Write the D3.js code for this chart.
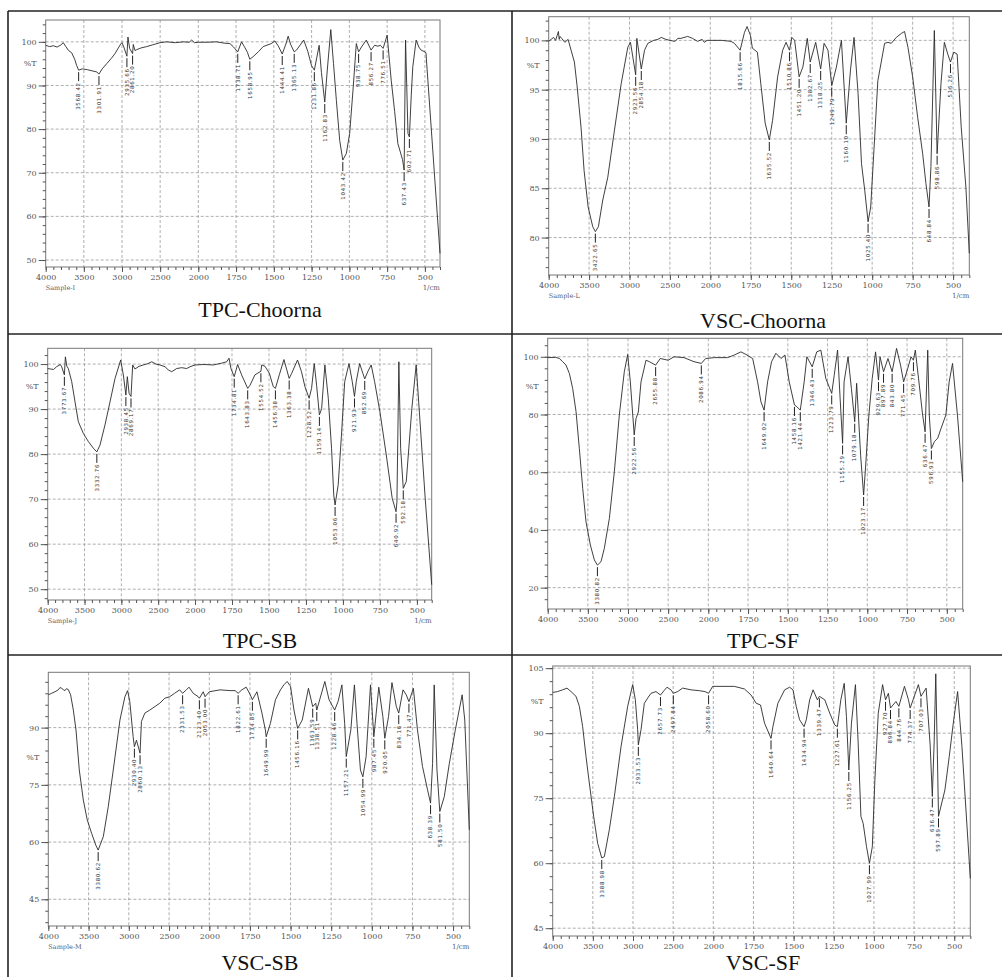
<!DOCTYPE html>
<html>
<head>
<meta charset="utf-8">
<script src="https://cdn.jsdelivr.net/npm/d3@7"></script>
<style>
	body { margin: 0; background: #fff; }
	svg { display: block; }
</style>
</head>
<body>
<script>
// wavenumber ticks shared by all six spectra
const x_tick_values = [4000, 3500, 3000, 2500, 2000, 1750, 1500, 1250, 1000, 750, 500];

// TPC-Choorna
const tpc_choorna = [[4000,99.2],[3950,98.9],[3900,99.1],[3850,98.8],[3800,99.3],[3770,99.8],[3740,99.0],[3700,98.0],[3660,97.5],[3620,96.0],[3595,94.6],[3568.42,93.5],[3520,93.8],[3450,93.6],[3380,93.3],[3330,93.1],[3301.91,92.6],[3260,93.8],[3200,95.0],[3140,96.2],[3092,97.3],[3017,99.5],[3000,99.8],[2980,99.0],[2935.66,96.7],[2922,101.1],[2900,98.5],[2861.20,97.3],[2852,99.4],[2830,98.0],[2808,98.2],[2750,98.6],[2677,98.9],[2600,99.3],[2500,99.8],[2415,100.0],[2300,99.8],[2196,100.0],[2120,99.9],[2087,100.4],[2050,99.8],[2000,99.9],[1940,99.9],[1879,100.0],[1830,99.7],[1791,99.6],[1769,98.9],[1738.71,97.7],[1714,100.0],[1695,98.9],[1675,97.6],[1658.95,96.0],[1637,96.6],[1600,97.8],[1571,98.9],[1516,99.6],[1493,100.2],[1470,99.0],[1444.41,97.2],[1420,99.5],[1405,101.3],[1390,99.5],[1365.13,97.7],[1350,98.1],[1325,99.3],[1302,100.4],[1275,97.8],[1251,94.6],[1231.86,93.5],[1215,96.5],[1200,99.2],[1185,93.0],[1162.83,86.2],[1145,94.0],[1123,102.8],[1105,95.0],[1086,86.6],[1064,77.4],[1043.42,72.9],[1020,74.4],[998,79.0],[976,88.9],[954,99.6],[938.75,97.7],[920,98.8],[888,100.4],[856.27,98.1],[833,99.2],[811,99.0],[795,99.2],[776.51,98.5],[750,101.5],[723,91.2],[700,84.0],[679,76.7],[648,73.0],[637.43,70.6],[628,100.4],[612,79.0],[602.71,78.2],[590,88.0],[580,94.3],[558,100.4],[540,98.8],[525,98.1],[500,97.7],[493,97.5],[400,51.5]];
const tpc_choorna_peaks = ['3568.42','3301.91','2935.66','2861.20','1738.71','1658.95','1444.41','1365.13','1231.86','1162.83','1043.42','938.75','856.27','776.51','637.43','602.71'];
const tpc_choorna_y_ticks = [50, 60, 70, 80, 90, 100];

// VSC-Choorna
const vsc_choorna = [[4000,99.9],[3970,100.1],[3940,100.3],[3915,100.0],[3895,100.5],[3880,100.9],[3870,100.1],[3860,100.4],[3840,100.2],[3800,99.8],[3760,100.1],[3723,99.0],[3682,97.8],[3649,95.4],[3600,91.2],[3562,86.8],[3512,83.1],[3455,81.1],[3422.65,80.6],[3385,81.1],[3331,83.8],[3269,86.1],[3186,90.9],[3103,95.6],[3021,99.3],[2988,99.8],[2923.56,96.5],[2909,100.2],[2854.18,97.1],[2814,99.0],[2773,99.7],[2700,100.0],[2649,100.1],[2607,100.3],[2550,100.1],[2500,100.0],[2438,99.9],[2400,100.2],[2364,100.2],[2281,100.4],[2220,100.2],[2157,99.9],[2100,100.1],[2074,99.8],[2040,100.0],[2000,100.0],[1930,100.0],[1872,99.9],[1851,99.7],[1815.66,99.0],[1789,100.8],[1773,101.4],[1752,100.5],[1740,99.2],[1709,98.8],[1688,95.6],[1661,91.6],[1635.52,89.9],[1615,91.9],[1584,96.3],[1553,99.0],[1532,99.8],[1510.86,99.0],[1496,100.3],[1479,100.0],[1451.20,96.3],[1428,97.3],[1401,100.2],[1382.67,97.8],[1349,99.8],[1318.25,97.1],[1297,99.7],[1273,99.0],[1249.79,95.4],[1221,97.3],[1190,100.0],[1160.10,91.6],[1134,97.0],[1112,100.3],[1087,94.6],[1066,87.5],[1046,84.8],[1025.40,81.6],[1009,83.1],[989,88.9],[965,95.9],[923,99.7],[903,99.8],[882,99.7],[851,100.3],[820,100.7],[800,100.9],[779,99.3],[750,96.3],[719,92.2],[688,88.5],[668,85.5],[648.84,83.1],[637,87.2],[616,101.0],[598.86,88.5],[575,95.6],[554,99.8],[533,98.6],[516.26,97.8],[496,98.8],[475,98.6],[450,91.2],[421,85.1],[400,78.4]];
const vsc_choorna_peaks = ['3422.65','2923.56','2854.18','1815.66','1635.52','1510.86','1451.20','1382.67','1318.25','1249.79','1160.10','1025.40','648.84','598.86','516.26'];
const vsc_choorna_y_ticks = [80, 85, 90, 95, 100];

// TPC-SB
const tpc_sb = [[4000,99.0],[3960,98.9],[3920,98.8],[3880,99.4],[3828,99.9],[3810,99.4],[3773.67,97.6],[3760,101.6],[3740,99.5],[3720,99.0],[3674,96.1],[3629,91.6],[3584,87.2],[3516,84.6],[3448,82.8],[3380,81.3],[3332.76,80.5],[3290,82.0],[3222,86.5],[3154,91.6],[3086,96.8],[3009,100.9],[2973,97.6],[2938.45,93.1],[2919,97.2],[2895,93.5],[2869.17,92.8],[2846,99.8],[2815,98.9],[2760,99.5],[2701,99.8],[2640,100.1],[2588,100.5],[2530,100.0],[2475,99.8],[2407,99.4],[2362,98.7],[2317,98.3],[2249,99.0],[2180,99.2],[2113,99.0],[2068,99.4],[2000,99.8],[1940,99.9],[1876,99.8],[1820,100.2],[1786,100.5],[1770,101.3],[1757,99.0],[1734.81,97.2],[1712,99.9],[1685,97.6],[1643.83,94.6],[1628,95.3],[1595,97.6],[1554.52,98.4],[1549,99.8],[1527,99.5],[1498,98.0],[1471,95.0],[1456.38,94.6],[1430,97.6],[1399,101.0],[1363.38,96.8],[1347,97.9],[1307,100.9],[1280,98.3],[1257,95.0],[1228.52,92.4],[1212,94.6],[1194,100.1],[1178,95.3],[1159.14,88.7],[1144,90.1],[1122,99.8],[1099,92.4],[1077,81.3],[1062,70.9],[1053.06,68.7],[1032,73.2],[1010,84.2],[988,96.1],[959,100.1],[937,96.1],[921.93,92.8],[910,96.1],[887,100.1],[865,97.9],[852.69,96.7],[831,98.4],[809,99.8],[786,96.1],[750,89.4],[707,79.8],[667,70.2],[640.92,67.2],[635,69.4],[622,100.5],[610,81.3],[592.18,72.4],[572,73.9],[534,90.2],[505,99.8],[482,88.7],[444,70.2],[400,51.0]];
const tpc_sb_peaks = ['3773.67','3332.76','2938.45','2869.17','1734.81','1643.83','1554.52','1456.38','1363.38','1228.52','1159.14','1053.06','921.93','852.69','640.92','592.18'];
const tpc_sb_y_ticks = [50, 60, 70, 80, 90, 100];

// TPC-SF
const tpc_sf = [[4000,99.7],[3900,99.8],[3855,99.4],[3813,98.3],[3772,97.1],[3730,94.2],[3689,89.0],[3647,81.0],[3606,68.2],[3564,54.4],[3523,42.8],[3469,34.8],[3419,29.6],[3380.82,27.8],[3336,29.0],[3295,33.6],[3232,44.0],[3170,60.2],[3108,79.8],[3046,94.8],[3004,100.8],[2971,91.3],[2922.56,72.9],[2900,78.6],[2871,80.9],[2838,91.3],[2776,98.8],[2734,98.3],[2655.88,97.1],[2598,99.4],[2500,98.8],[2427,100.0],[2303,99.7],[2178,98.3],[2086.94,97.7],[2033,99.4],[1962,99.7],[1879,99.7],[1837,100.6],[1795,101.7],[1763,100.8],[1721,99.4],[1690,91.3],[1669,84.4],[1649.02,81.5],[1627,91.3],[1602,98.3],[1575,101.2],[1543,99.4],[1518,100.6],[1491,91.3],[1458.16,83.3],[1443,82.7],[1421.44,81.5],[1397,91.3],[1380,100.0],[1346.43,96.5],[1318,101.7],[1292,102.3],[1261,92.5],[1223.79,87.3],[1208,93.6],[1187,102.3],[1171,85.6],[1155.29,70.0],[1146,91.3],[1121,100.0],[1100,89.0],[1079.18,77.5],[1067,90.8],[1058,82.1],[1042,65.9],[1023.17,52.1],[1010,62.5],[990,79.8],[969,92.5],[948,101.7],[929.63,91.9],[920,100.0],[897.89,94.8],[870,99.4],[843.80,94.8],[816,102.9],[791,97.1],[771.45,91.3],[746,95.9],[725,100.0],[709.76,98.8],[698,102.3],[673,90.2],[652,79.8],[636.47,74.0],[620,102.3],[610,79.8],[596.93,68.2],[578,70.6],[557,71.8],[536,75.2],[506,79.8],[485,91.3],[464,97.7],[433,79.8],[400,56.7]];
const tpc_sf_peaks = ['3380.82','2922.56','2655.88','2086.94','1649.02','1458.16','1421.44','1346.43','1223.79','1155.29','1079.18','1023.17','929.63','897.89','843.80','771.45','709.76','636.47','596.93'];
const tpc_sf_y_ticks = [20, 40, 60, 80, 100];

// VSC-SB
const vsc_sb = [[4000,98.6],[3959,99.0],[3917,99.4],[3876,99.9],[3855,100.5],[3834,100.3],[3810,99.9],[3793,99.7],[3775,100.2],[3752,100.0],[3723,98.6],[3689,94.6],[3656,89.4],[3615,78.9],[3565,71.0],[3516,65.8],[3462,62.3],[3410,59.2],[3380.62,57.9],[3317,61.4],[3255,69.3],[3193,78.9],[3110,92.0],[3048,98.1],[3015,99.7],[2988,96.9],[2946,87.6],[2930.40,85.0],[2905,86.7],[2860.13,83.3],[2843,91.6],[2801,93.8],[2739,94.6],[2677,95.5],[2615,96.4],[2553,97.7],[2492,98.1],[2431,99.0],[2368,99.9],[2331.53,99.0],[2285,99.9],[2252,100.6],[2200,99.0],[2137,98.1],[2123.40,97.7],[2075,99.4],[2053.00,98.1],[2000,99.4],[1934,99.9],[1872,99.7],[1841,99.7],[1822.61,99.0],[1800,99.9],[1773,100.6],[1748,98.6],[1734.85,97.3],[1707,99.4],[1676,93.8],[1655,89.4],[1649.99,87.6],[1624,91.1],[1593,97.3],[1562,99.9],[1541,101.2],[1521,102.1],[1500,100.8],[1479,94.6],[1456.16,89.8],[1428,92.0],[1390,100.3],[1363.59,95.5],[1345,96.4],[1338.51,94.6],[1289,102.1],[1263,97.3],[1228.46,94.6],[1207,96.9],[1184,101.2],[1167,91.1],[1157.21,82.4],[1129,89.4],[1107,101.2],[1091,91.1],[1070,78.9],[1054.99,77.1],[1035,82.4],[1008,101.2],[987.45,87.6],[973,93.8],[957,100.6],[932,92.9],[920.05,87.2],[897,92.9],[876,101.8],[849,95.5],[834.16,93.8],[808,99.9],[788,98.6],[771.47,96.8],[744,100.3],[719,89.4],[688,79.8],[657,73.7],[638.39,70.2],[626,80.6],[616,101.2],[599,78.9],[581.50,68.0],[554,71.9],[523,80.6],[486,89.4],[444,98.6],[428,92.0],[400,63.2]];
const vsc_sb_peaks = ['3380.62','2930.40','2860.13','2331.53','2123.40','2053.00','1822.61','1734.85','1649.99','1456.16','1363.59','1338.51','1228.46','1157.21','1054.99','987.45','920.05','834.16','771.47','638.39','581.50'];
const vsc_sb_y_ticks = [45, 60, 75, 90];

// VSC-SF
const vsc_sf = [[4000,99.4],[3938,99.6],[3876,100.0],[3822,100.4],[3772,99.6],[3710,98.5],[3668,96.2],[3627,91.5],[3585,84.6],[3544,78.5],[3490,70.8],[3440,64.6],[3388.98,61.2],[3357,61.5],[3295,67.7],[3232,75.4],[3149,86.9],[3066,96.2],[3004,101.2],[2971,97.7],[2942,90.8],[2933.53,87.3],[2900,90.8],[2859,96.9],[2817,98.1],[2776,99.2],[2714,99.6],[2657.73,98.8],[2610,99.9],[2577,100.6],[2527,100.0],[2497.84,99.2],[2444,99.6],[2382,100.4],[2278,100.0],[2174,99.8],[2104,99.6],[2058.60,99.2],[2008,100.8],[1952,100.8],[1869,100.8],[1806,100.2],[1765,98.8],[1733,96.9],[1706,96.5],[1681,92.3],[1640.64,88.8],[1629,91.5],[1598,96.9],[1556,100.0],[1525,100.6],[1504,100.0],[1484,96.2],[1463,93.1],[1434.94,91.5],[1421,93.1],[1400,97.7],[1379,100.0],[1352,97.7],[1339.47,98.5],[1306,97.7],[1275,94.6],[1244,91.9],[1227.61,91.5],[1206,97.7],[1185,101.5],[1171,93.8],[1156.25,81.5],[1140,92.3],[1115,101.2],[1098,87.7],[1081,70.8],[1067,69.2],[1046,63.8],[1027.99,60.0],[1010,63.8],[994,79.2],[973,94.6],[946,101.2],[927.70,97.7],[910,99.2],[896.84,95.8],[863,97.3],[844.76,96.2],[810,100.8],[785,97.7],[774.37,95.8],[723,101.2],[707.03,98.5],[675,100.4],[650,87.3],[636.47,75.4],[625,88.0],[615,103.7],[605,85.0],[597.89,70.8],[558,76.9],[531,84.6],[506,92.3],[479,99.6],[452,86.9],[400,56.5]];
const vsc_sf_peaks = ['3388.98','2933.53','2657.73','2497.84','2058.60','1640.64','1434.94','1339.47','1227.61','1156.25','1027.99','927.70','896.84','844.76','774.37','707.03','636.47','597.89'];
const vsc_sf_y_ticks = [45, 60, 75, 90, 105];

const panels = [
	{ title: 'TPC-Choorna', data: tpc_choorna, peaks: tpc_choorna_peaks, y_ticks: tpc_choorna_y_ticks, y_minor: 2, y_domain: [48.4, 105], pct_at: 95, sample: 'Sample-I',
	  left: 45.7, mid: 198.3, right: 440, top: 20, bottom: 267, title_x: 260, title_y: 317 },
	{ title: 'VSC-Choorna', data: vsc_choorna, peaks: vsc_choorna_peaks, y_ticks: vsc_choorna_y_ticks, y_minor: 1, y_domain: [76.2, 102.4], pct_at: 97.5, sample: 'Sample-L',
	  left: 548.7, mid: 710.3, right: 969.3, top: 16.7, bottom: 275, title_x: 763, title_y: 328 },
	{ title: 'TPC-SB', data: tpc_sb, peaks: tpc_sb_peaks, y_ticks: tpc_sb_y_ticks, y_minor: 2, y_domain: [47.6, 103.5], pct_at: 95, sample: 'Sample-J',
	  left: 47.7, mid: 195, right: 431.7, top: 348.3, bottom: 600, title_x: 260, title_y: 648 },
	{ title: 'TPC-SF', data: tpc_sf, peaks: tpc_sf_peaks, y_ticks: tpc_sf_y_ticks, y_minor: 4, y_domain: [12.6, 106.4], pct_at: 89.6, sample: null,
	  left: 547.7, mid: 708.3, right: 962.7, top: 338.3, bottom: 609, title_x: 763, title_y: 648 },
	{ title: 'VSC-SB', data: vsc_sb, peaks: vsc_sb_peaks, y_ticks: vsc_sb_y_ticks, y_minor: 3, y_domain: [38, 104.5], pct_at: 82.1, sample: 'Sample-M',
	  left: 48.3, mid: 209.3, right: 469.3, top: 672.3, bottom: 926, title_x: 260, title_y: 970 },
	{ title: 'VSC-SF', data: vsc_sf, peaks: vsc_sf_peaks, y_ticks: vsc_sf_y_ticks, y_minor: 3, y_domain: [43.2, 105.5], pct_at: 97.3, sample: null,
	  left: 552.7, mid: 713.3, right: 970.3, top: 666, bottom: 936, title_x: 763, title_y: 970 }
];

const svg = d3.select('body').append('svg')
	.attr('width', 1002)
	.attr('height', 977);

// table rules around the six cells
const rules = svg.append('g').attr('stroke', '#222').attr('stroke-width', 1.6);
rules.append('line').attr('x1', 8).attr('x2', 1002).attr('y1', 11).attr('y2', 11);
rules.append('line').attr('x1', 8).attr('x2', 1002).attr('y1', 334).attr('y2', 334);
rules.append('line').attr('x1', 8).attr('x2', 1002).attr('y1', 655).attr('y2', 655);
rules.append('line').attr('x1', 8).attr('x2', 8).attr('y1', 11).attr('y2', 977);
rules.append('line').attr('x1', 512).attr('x2', 512).attr('y1', 11).attr('y2', 977);

function t_at(data, wn)
{
	for (let i = 0; i < data.length - 1; i++)
	{
		const a = data[i], b = data[i + 1];
		if (a[0] >= wn && b[0] <= wn)
			return a[1] + (b[1] - a[1]) * (a[0] - wn) / (a[0] - b[0]);
	}
	return data[data.length - 1][1];
}

function draw_panel(p)
{
	const g = svg.append('g');

	// Shimadzu style: 4000-2000 squeezed to half scale
	const x = d3.scaleLinear().domain([4000, 2000, 400]).range([p.left, p.mid, p.right]);
	const y = d3.scaleLinear().domain(p.y_domain).range([p.bottom, p.top]);

	const x_minor = d3.range(4000, 2000, -100).concat(d3.range(2000, 399, -50));
	const y_minor = d3.range(Math.ceil(p.y_domain[0] / p.y_minor) * p.y_minor, p.y_domain[1], p.y_minor);

	// grid
	g.append('g').selectAll('line')
		.data(x_tick_values.slice(1))
		.join('line')
			.attr('x1', d => x(d)).attr('x2', d => x(d))
			.attr('y1', p.top).attr('y2', p.bottom)
			.attr('stroke', '#9a9a9a').attr('stroke-width', 0.8).attr('stroke-dasharray', '3,2');
	g.append('g').selectAll('line')
		.data(p.y_ticks)
		.join('line')
			.attr('x1', p.left).attr('x2', p.right)
			.attr('y1', d => y(d)).attr('y2', d => y(d))
			.attr('stroke', '#9a9a9a').attr('stroke-width', 0.8).attr('stroke-dasharray', '3,2');

	g.append('rect')
		.attr('x', p.left).attr('y', p.top)
		.attr('width', p.right - p.left).attr('height', p.bottom - p.top)
		.attr('fill', 'none').attr('stroke', '#777').attr('stroke-width', 1);

	// axes
	const xa_minor = g.append('g').attr('transform', `translate(0,${p.bottom})`)
		.call(d3.axisBottom(x).tickValues(x_minor).tickSize(3).tickSizeOuter(0).tickFormat(''));
	const xa = g.append('g').attr('transform', `translate(0,${p.bottom})`)
		.call(d3.axisBottom(x).tickValues(x_tick_values).tickSize(5).tickSizeOuter(0).tickPadding(2).tickFormat(d3.format('d')));
	const ya_minor = g.append('g').attr('transform', `translate(${p.left},0)`)
		.call(d3.axisLeft(y).tickValues(y_minor).tickSize(3).tickSizeOuter(0).tickFormat(''));
	const ya = g.append('g').attr('transform', `translate(${p.left},0)`)
		.call(d3.axisLeft(y).tickValues(p.y_ticks).tickSize(7).tickSizeOuter(0).tickPadding(2).tickFormat(d3.format('d')));

	[xa_minor, xa, ya_minor, ya].forEach(function(a)
	{
		a.select('.domain').remove();
		a.selectAll('line').attr('stroke', '#555');
		a.selectAll('text')
			.attr('fill', '#555')
			.style('font-family', 'DejaVu Serif')
			.style('font-size', '8px');
	});

	g.append('text')
		.attr('x', p.left - 9).attr('y', y(p.pct_at))
		.attr('dy', '0.32em').attr('text-anchor', 'end')
		.attr('fill', '#555').style('font-family', 'DejaVu Serif').style('font-size', '8px')
		.text('%T');

	if (p.sample)
	{
		g.append('text')
			.attr('x', p.left).attr('y', p.bottom + 23)
			.attr('fill', '#5a5a6a').style('font-family', 'DejaVu Serif').style('font-size', '6.5px')
			.text(p.sample);
		g.append('text')
			.attr('x', p.right).attr('y', p.bottom + 23).attr('text-anchor', 'end')
			.attr('fill', '#5a5a6a').style('font-family', 'DejaVu Serif').style('font-size', '7px')
			.text('1/cm');
	}

	// spectrum
	g.append('path')
		.datum(p.data)
		.attr('fill', 'none')
		.attr('stroke', '#2a2a2a')
		.attr('stroke-width', 0.9)
		.attr('stroke-linejoin', 'round')
		.attr('d', d3.line()
			.x(function(d) { return x(d[0]); })
			.y(function(d) { return y(d[1]); }));

	// peak labels below each band
	const pk = g.append('g').selectAll('g')
		.data(p.peaks)
		.join('g')
			.attr('transform', d => `translate(${x(+d)},${y(t_at(p.data, +d)) + 2})`);
	pk.append('line')
		.attr('y1', 0).attr('y2', 9)
		.attr('stroke', '#222').attr('stroke-width', 1);
	pk.append('text')
		.attr('transform', 'translate(0,10) rotate(-90)')
		.attr('text-anchor', 'end').attr('dy', '0.32em')
		.attr('fill', '#333')
		.style('font-family', 'DejaVu Sans').style('font-size', '5.5px').style('letter-spacing', '0.7px')
		.text(d => d);

	svg.append('text')
		.attr('x', p.title_x).attr('y', p.title_y)
		.attr('text-anchor', 'middle')
		.attr('fill', '#111')
		.style('font-family', 'Liberation Serif').style('font-size', '22px')
		.text(p.title);
}

panels.forEach(draw_panel);
</script>
</body>
</html>
